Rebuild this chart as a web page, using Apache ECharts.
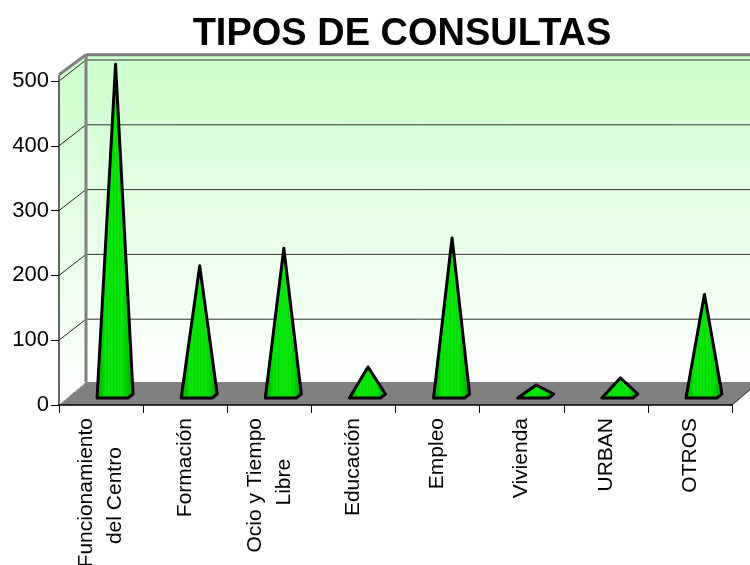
<!DOCTYPE html>
<html>
<head>
<meta charset="utf-8">
<style>
  html, body { margin: 0; padding: 0; background: #fff; }
  #chart { width: 750px; height: 565px; }
</style>
<script src="https://cdn.jsdelivr.net/npm/echarts@6/dist/echarts.min.js"></script>
</head>
<body>
<div id="chart"></div>
<script>
const categories = ['Funcionamiento\ndel Centro', 'Formación', 'Ocio y Tiempo\nLibre', 'Educación', 'Empleo', 'Vivienda', 'URBAN', 'OTROS']
const consultas = [508, 197, 224, 41, 240, 13, 24, 153]
const yTicks = [100, 200, 300, 400, 500]
const wallTop = 505

const depthX = 27
const depthY = 21
const floorDepth = 23
const font = '"Liberation Sans", Arial, sans-serif'
// the second line of a label is centred on the first one, axis labels only align to one end
const linePad = { 'del Centro': 5, 'Libre': 7 }

const wallFill = { type: 'linear', x: 0, y: 0, x2: 0, y2: 1, colorStops: [
  { offset: 0, color: '#ccffcc' }, { offset: 1, color: '#ffffff' }
] }

function stripes() {
  const stops = [{ offset: 0, color: '#00a000' }, { offset: 0.22, color: '#00d400' }]
  for (let i = 6; i < 18; i++) {
    stops.push({ offset: i / 24, color: i % 2 ? '#00e000' : '#12e412' })
  }
  stops.push({ offset: 0.8, color: '#00cc00' }, { offset: 1, color: '#009400' })
  return { type: 'linear', x: 0, y: 0, x2: 1, y2: 0, colorStops: stops }
}
const faceFill = stripes()

function renderWalls(params, api) {
  const band = api.size([1, 0])[0]
  const left = api.coord([0, 0])[0] - band / 2
  const right = api.coord([categories.length - 1, 0])[0] + band / 2
  const y0 = api.coord([0, 0])[1]
  const yTop = api.coord([0, wallTop])[1]
  const backTop = yTop - floorDepth
  const backX = left + depthX
  const frontTop = backTop + 20
  const line = (x1, y1, x2, y2, stroke, width, dash) => ({
    type: 'line', shape: { x1, y1, x2, y2 }, style: { stroke, lineWidth: width, lineDash: dash }
  })
  const children = [
    { type: 'rect', shape: { x: backX, y: backTop, width: right - left, height: y0 - floorDepth - backTop },
      style: { fill: wallFill } },
    { type: 'polygon', shape: { points: [[left, y0], [backX, y0 - floorDepth], [backX, backTop], [left, frontTop]] },
      style: { fill: wallFill } },
    { type: 'polygon', shape: { points: [[left, y0], [backX, y0 - floorDepth], [right + depthX, y0 - floorDepth], [right, y0]] },
      style: { fill: '#808080' } }
  ]
  yTicks.forEach(v => {
    const y = api.coord([0, v])[1]
    children.push(line(left, y, backX, y - depthY, '#222', 1))
    children.push(line(backX, y - depthY, right + depthX, y - depthY, '#333', 1))
  })
  children.push(line(left + 4, y0 - 4, backX - 2, y0 - floorDepth + 2, '#e0e0e0', 1, [2, 2]))
  children.push(line(backX, y0 - floorDepth, backX, backTop, '#808080', 3))
  children.push(line(backX, backTop, right + depthX, backTop, '#808080', 3))
  children.push(line(left, frontTop, backX, backTop, '#808080', 3))
  children.push(line(left, frontTop, left, api.coord([0, 500])[1], '#808080', 2))
  children.push(line(right, y0, right + depthX, y0 - floorDepth, '#222', 1))
  return { type: 'group', children }
}

function renderPyramid(params, api) {
  const base = api.coord([api.value(0), 0])
  const tip = api.coord([api.value(0), api.value(1)])
  const apex = [tip[0] + 14.5, tip[1] - 11.5]
  const fl = [base[0] - 4, base[1] - 7]
  const fr = [base[0] + 27, base[1] - 7]
  const br = [base[0] + 32, base[1] - 11]
  return {
    type: 'polygon',
    shape: { points: [fl, fr, br, apex] },
    style: { fill: faceFill, stroke: '#000', lineWidth: 3, lineJoin: 'round' }
  }
}

const chart = echarts.init(document.getElementById('chart'))
chart.setOption({
  animation: false,
  title: {
    text: 'TIPOS DE CONSULTAS',
    left: 397,
    top: 11,
    textAlign: 'center',
    textStyle: { fontFamily: font, fontSize: 38, fontWeight: 'bold', color: '#000' }
  },
  grid: { left: 59, right: 18, top: 81, bottom: 160, outerBoundsMode: 'none' },
  xAxis: {
    type: 'category',
    data: categories,
    z: 10,
    axisLine: { lineStyle: { color: '#000', width: 1.5 } },
    axisTick: { show: true, length: 8, alignWithLabel: false, lineStyle: { color: '#000' } },
    axisLabel: {
      interval: 0,
      rotate: 90,
      margin: 13,
      fontFamily: font,
      fontSize: 21,
      lineHeight: 29,
      color: '#000',
      formatter: v => v.split('\n').map(l => l + '\u00a0'.repeat(linePad[l] || 0)).join('\n')
    }
  },
  yAxis: {
    type: 'value',
    min: 0,
    max: 500,
    interval: 100,
    z: 10,
    splitLine: { show: false },
    axisLine: { show: true, lineStyle: { color: '#333', width: 1.5 } },
    axisTick: { show: true, length: 8, lineStyle: { color: '#000' } },
    axisLabel: { margin: 10, fontFamily: font, fontSize: 22, color: '#000' }
  },
  series: [
    { type: 'custom', z: 1, silent: true, data: [[0, 0]], renderItem: renderWalls },
    { type: 'custom', z: 5, data: consultas.map((v, i) => [i, v]), encode: { x: 0, y: 1 }, renderItem: renderPyramid }
  ]
})
</script>
</body>
</html>
